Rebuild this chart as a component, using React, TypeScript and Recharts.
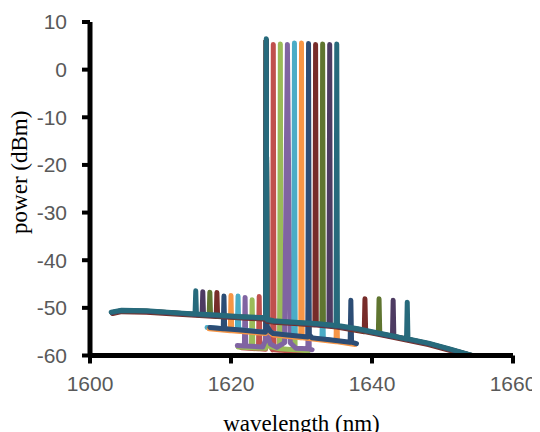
import { LineChart, Line, XAxis, YAxis } from "recharts"

// wavelength (nm), power (dBm) pairs
const xTicks = [1600, 1620, 1640, 1660]
const yTicks = [-60, -50, -40, -30, -20, -10, 0, 10]

type Pt = [number, number]

// lowest traces (short span)
const red: Pt[] = [
  [1621.5, -58.4], [1623.9, -58.6], [1624, -47.6], [1624.1, -58.6], [1624.9, -58.7], [1625, 6.1],
  [1625.1, -57.0], [1625.9, -58.8], [1626, 5.3], [1626.1, -58.8], [1626.9, -58.9], [1627, -48.5],
  [1627.1, -58.9], [1630.5, -59.2],
]
const green: Pt[] = [
  [1621.0, -58.2], [1622.9, -58.4], [1623, -48.3], [1623.1, -58.4], [1624.9, -58.5], [1625, 6.1],
  [1625.1, -56.5], [1625.6, -58.2], [1626.9, -58.6], [1627, 5.4], [1627.1, -58.6], [1628.9, -58.8],
  [1629, -48.6], [1629.1, -58.8], [1631, -59.0],
]
const purple: Pt[] = [
  [1620.9, -57.9], [1621.9, -58.0], [1622, -47.8], [1622.1, -58.0], [1624.5, -58.2], [1624.9, -56.8],
  [1625, 6.1], [1625.1, -55.5], [1625.6, -57.6], [1626.5, -58.3], [1627.6, -57.3], [1628, 5.3],
  [1628.4, -57.3], [1629.2, -58.5], [1630.9, -58.6], [1631, -48.6], [1631.1, -58.6], [1631.5, -58.8],
]

// middle traces
const aqua: Pt[] = [
  [1616.6, -54.1], [1620.9, -54.6], [1621, -47.5], [1621.1, -54.6], [1624, -55.0], [1624.9, -55.1],
  [1625, 6.1], [1625.1, -54.0], [1625.6, -55.1], [1626, -55.4], [1628.9, -55.9], [1629, 5.6],
  [1629.1, -55.9], [1632.9, -56.6], [1633, -48.5], [1633.1, -56.6], [1636.5, -57.3],
]
const orange: Pt[] = [
  [1616.9, -54.4], [1619.9, -54.8], [1620, -47.4], [1620.1, -54.8], [1624, -55.3], [1624.9, -55.4],
  [1625, 6.1], [1625.1, -54.2], [1625.6, -55.3], [1626, -55.7], [1629.9, -56.3], [1630, 5.6],
  [1630.1, -56.3], [1634.9, -57.1], [1635, -48.5], [1635.1, -57.1], [1637.6, -57.7],
]
const darkBlue: Pt[] = [
  [1617.0, -54.1], [1618.9, -54.4], [1619, -47.5], [1619.1, -54.4], [1621, -54.6], [1624, -55.0],
  [1624.9, -55.1], [1625, 6.1], [1625.1, -53.8], [1625.6, -55.0], [1626, -55.4], [1628, -55.7],
  [1630.9, -56.1], [1631, 5.5], [1631.1, -55.6], [1631.5, -56.3], [1634, -56.7], [1636.9, -57.2],
  [1637, -48.4], [1637.1, -57.2], [1637.8, -57.5],
]

// full span traces
const darkRed: Pt[] = [
  [1603.2, -51.2], [1604.5, -50.8], [1608, -50.9], [1612, -51.3], [1617.9, -51.8], [1618, -46.8],
  [1618.1, -51.8], [1621, -52.1], [1624, -52.3], [1624.9, -52.4], [1625, 6.1], [1625.1, -52.8],
  [1626, -53.0], [1629, -53.3], [1631.9, -53.6], [1632, 5.3], [1632.1, -53.6], [1635, -54.0],
  [1638.9, -55.0], [1639, -48.1], [1639.1, -55.0], [1643, -56.2], [1648, -57.7], [1651, -58.9],
  [1654.1, -60],
]
const darkGreen: Pt[] = [
  [1603.1, -51.0], [1604.5, -50.6], [1608, -50.7], [1612, -51.1], [1616.9, -51.6], [1617, -46.7],
  [1617.1, -51.6], [1621, -51.9], [1624, -52.1], [1624.9, -52.2], [1625, 6.1], [1625.1, -52.6],
  [1626, -52.8], [1629, -53.1], [1632.9, -53.5], [1633, 5.4], [1633.1, -53.5], [1637, -54.3],
  [1640.9, -55.4], [1641, -48.1], [1641.1, -55.4], [1645, -56.6], [1648, -57.5], [1651, -58.7],
  [1654.1, -60],
]
const darkPurple: Pt[] = [
  [1603.1, -51.0], [1604.5, -50.6], [1608, -50.7], [1612, -51.1], [1615.9, -51.5], [1616, -46.6],
  [1616.1, -51.5], [1621, -51.9], [1624, -52.1], [1624.9, -52.2], [1625, 6.1], [1625.1, -52.6],
  [1626, -52.8], [1629, -53.1], [1633.9, -53.7], [1634, 5.3], [1634.1, -53.7], [1638, -54.5],
  [1642.9, -56.0], [1643, -48.4], [1643.1, -56.0], [1645, -56.6], [1648, -57.5], [1651, -58.7],
  [1654.1, -60],
]
const teal: Pt[] = [
  [1603, -50.9], [1604.5, -50.5], [1608, -50.6], [1612, -51.0], [1614.9, -51.3], [1615, -46.4],
  [1615.1, -51.3], [1618, -51.5], [1621, -51.8], [1624, -52.0], [1624.9, -52.1], [1625, 6.5],
  [1625.1, -52.4], [1626, -52.7], [1629, -53.0], [1632, -53.3], [1634.9, -53.7], [1635, 5.4],
  [1635.1, -53.7], [1638, -54.4], [1640, -55.0], [1643, -55.9], [1644.9, -56.5], [1645, -48.8],
  [1645.1, -56.5], [1648, -57.4], [1651, -58.6], [1654.2, -60],
]

const series = [
  { name: "1626", color: "#C0504D", points: red },
  { name: "1627", color: "#9BBB59", points: green },
  { name: "1628", color: "#8064A2", points: purple },
  { name: "1629", color: "#4BACC6", points: aqua },
  { name: "1630", color: "#F79646", points: orange },
  { name: "1631", color: "#2C4D75", points: darkBlue },
  { name: "1632", color: "#772C2A", points: darkRed },
  { name: "1633", color: "#5F7530", points: darkGreen },
  { name: "1634", color: "#4D3B62", points: darkPurple },
  { name: "1635", color: "#276A7C", points: teal },
]

const toRows = (pts: Pt[]) => pts.map(([x, y]) => ({ x, y }))

const tickStyle = { fill: "#595959", fontSize: 21, fontFamily: "Liberation Sans" }
const titleStyle = { fill: "#000", fontSize: 23, fontFamily: "Liberation Serif" }

export default function App() {
  return (
    <LineChart width={532} height={424} margin={{ top: 14, right: 27, bottom: 0, left: 0 }}>
      <XAxis
        type="number"
        dataKey="x"
        domain={[1600, 1660]}
        ticks={xTicks}
        allowDataOverflow
        height={76.5}
        tick={tickStyle}
        tickSize={8}
        tickMargin={13}
        axisLine={{ stroke: "#000", strokeWidth: 5 }}
        tickLine={{ stroke: "#000", strokeWidth: 4 }}
        label={{ value: "wavelength (nm)", position: "insideBottom", offset: 1, style: titleStyle }}
      />
      <YAxis
        type="number"
        domain={[-60, 10]}
        ticks={yTicks}
        allowDataOverflow
        width={82}
        tick={tickStyle}
        tickSize={8}
        tickMargin={15}
        axisLine={{ stroke: "#000", strokeWidth: 5 }}
        tickLine={{ stroke: "#000", strokeWidth: 4 }}
        label={{
          content: (props: any) => {
            const vb = props.viewBox
            const cx = vb.x + 19
            const cy = vb.y + vb.height / 2 - 16.5
            return (
              <text x={cx} y={cy} transform={`rotate(-90 ${cx} ${cy})`} textAnchor="middle" style={titleStyle}>
                power (dBm)
              </text>
            )
          },
        }}
      />
      {series.map((s) => (
        <Line
          key={s.name}
          name={s.name}
          data={toRows(s.points)}
          dataKey="y"
          type="linear"
          stroke={s.color}
          strokeWidth={5}
          strokeLinejoin="round"
          strokeLinecap="round"
          dot={false}
          activeDot={false}
          isAnimationActive={false}
        />
      ))}
    </LineChart>
  )
}
